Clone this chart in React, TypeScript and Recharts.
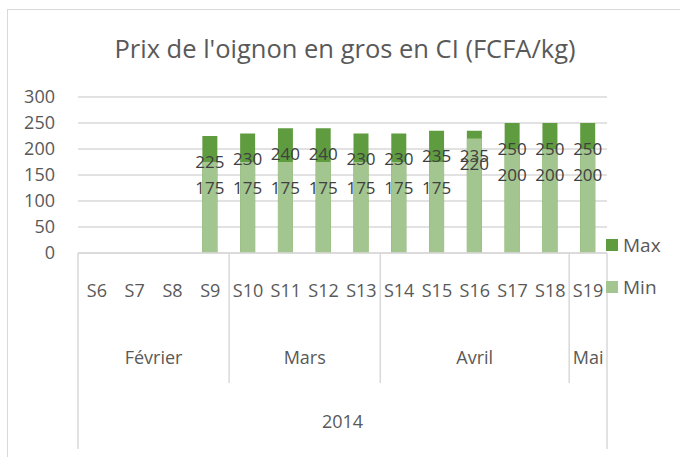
import { BarChart, Bar, XAxis, YAxis, CartesianGrid, LabelList } from "recharts";

const weeks = ["S6", "S7", "S8", "S9", "S10", "S11", "S12", "S13", "S14", "S15", "S16", "S17", "S18", "S19"];
const months = ["Février", "Mars", "Avril", "Mai"];
const monthSpans = [4, 4, 5, 1];
const year = "2014";
const maxValues = [null, null, null, 225, 230, 240, 240, 230, 230, 235, 235, 250, 250, 250];
const minValues = [null, null, null, 175, 175, 175, 175, 175, 175, 175, 220, 200, 200, 200];
const yTicks = [0, 50, 100, 150, 200, 250, 300];

const data = weeks.map((w, i) => ({ week: w, Max: maxValues[i], Min: minValues[i] }));

const FONT = "'Open Sans', sans-serif";
const TEXT = "#595959";
const GRID = "#D9D9D9";
const DARK = "#5F9B3F";
const LIGHT = "#A3C58F";

// month starts, computed from spans
const monthStart: Record<number, number> = {};
let acc = 0;
monthSpans.forEach((n, k) => {
  monthStart[acc] = k;
  acc += n;
});

function CategoryTick(props: any) {
  const { x, y, payload, index } = props;
  const half = payload?.offset ?? props.width / weeks.length / 2;
  const bw = half * 2;
  const left = x - half;
  const k = monthStart[index];
  return (
    <g fontFamily={FONT} fill={TEXT}>
      <text x={x} y={y + 37} textAnchor="middle" dominantBaseline="central" fontSize={18} fill={TEXT}>
        {payload.value}
      </text>
      {k !== undefined && (
        <>
          {index > 0 && <line x1={left} x2={left} y1={y} y2={y + 130} stroke={GRID} strokeWidth={1.5} />}
          <text
            x={left + (monthSpans[k] * bw) / 2}
            y={y + 104}
            textAnchor="middle"
            dominantBaseline="central"
            fontSize={18}
            fill={TEXT}
          >
            {months[k]}
          </text>
        </>
      )}
      {index === 0 && (
        <>
          <line x1={left} x2={left} y1={y} y2={y + 196} stroke={GRID} strokeWidth={1.5} />
          <text x={left + (weeks.length * bw) / 2} y={y + 168} textAnchor="middle" dominantBaseline="central" fontSize={18} fill={TEXT}>
            {year}
          </text>
        </>
      )}
      {index === weeks.length - 1 && (
        <line x1={x + half} x2={x + half} y1={y} y2={y + 196} stroke={GRID} strokeWidth={1.5} />
      )}
    </g>
  );
}

function InsideLabel(props: any) {
  const { x, y, width, value } = props;
  if (value == null) return null;
  return (
    <text
      x={x + width / 2}
      y={y + 25}
      textAnchor="middle"
      dominantBaseline="central"
      fontFamily={FONT}
      fontSize={17}
      fill="#404040"
    >
      {value}
    </text>
  );
}

const legendItems = [
  { name: "Max", color: DARK },
  { name: "Min", color: LIGHT },
];

export default function App() {
  return (
    <div style={{ position: "absolute", left: 0, top: 0, width: 680, height: 457, background: "#fff", overflow: "hidden" }}>
      <div
        style={{
          position: "absolute",
          left: 7,
          top: 9,
          width: 700,
          height: 470,
          borderTop: `1.5px solid ${GRID}`,
          borderLeft: `1.5px solid ${GRID}`,
        }}
      />
      <div
        style={{
          position: "absolute",
          left: 0,
          width: 690,
          top: 29,
          textAlign: "center",
          fontFamily: FONT,
          fontSize: 25.5,
          color: TEXT,
          lineHeight: "38px",
        }}
      >
        Prix de l'oignon en gros en CI (FCFA/kg)
      </div>
      <BarChart
        width={680}
        height={457}
        data={data}
        margin={{ top: 97, right: 73, bottom: 4, left: 28 }}
        style={{ position: "absolute", left: 0, top: 0 }}
      >
        <CartesianGrid vertical={false} stroke={GRID} strokeWidth={1.5} />
        <YAxis
          domain={[0, 300]}
          ticks={yTicks}
          axisLine={false}
          tickLine={false}
          tickSize={0}
          tickMargin={23}
          width={50}
          tick={{ fontSize: 18, fill: TEXT, fontFamily: FONT }}
        />
        <XAxis
          xAxisId="main"
          dataKey="week"
          height={200}
          tickLine={false}
          tickSize={0}
          tickMargin={0}
          interval={0}
          axisLine={{ stroke: GRID, strokeWidth: 1.5 }}
          tick={<CategoryTick />}
        />
        <XAxis xAxisId="over" dataKey="week" hide />
        <Bar xAxisId="main" dataKey="Max" fill={DARK} barSize={15} isAnimationActive={false}>
          <LabelList dataKey="Max" content={<InsideLabel />} />
        </Bar>
        <Bar xAxisId="over" dataKey="Min" fill={LIGHT} barSize={15} isAnimationActive={false}>
          <LabelList dataKey="Min" content={<InsideLabel />} />
        </Bar>
      </BarChart>
      <div style={{ position: "absolute", left: 606, top: 234, fontFamily: FONT, fontSize: 19, color: TEXT }}>
        {legendItems.map((it, i) => (
          <div key={it.name} style={{ display: "flex", alignItems: "center", height: 22, marginBottom: i === 0 ? 20 : 0 }}>
            <span style={{ width: 12, height: 12, background: it.color, marginRight: 5, display: "inline-block" }} />
            {it.name}
          </div>
        ))}
      </div>
    </div>
  );
}
